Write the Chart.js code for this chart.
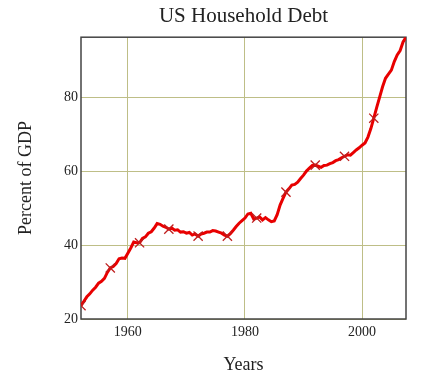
<!DOCTYPE html>
<html>
<head>
<meta charset="utf-8">
<script src="https://cdn.jsdelivr.net/npm/chart.js@4.4.1/dist/chart.umd.min.js"></script>
<style>
  html, body { margin: 0; padding: 0; background: #fff; }
  #wrap { width: 436px; height: 380px; }
</style>
</head>
<body>
<div id="wrap"><canvas id="debtChart" width="436" height="380"></canvas></div>
<script>
// household debt, % of GDP, half-year steps from 1952.0
const startYear = 1952;
const yearStep = 0.5;
const debt = [
  23.6, 24.8, 26.0, 26.8, 27.8, 28.6, 29.7, 30.2, 31.0, 32.6,
  33.8, 34.2, 35.0, 36.3, 36.5, 36.4, 37.8, 39.2, 40.8, 40.6,
  40.6, 41.8, 42.2, 43.2, 43.6, 44.6, 45.8, 45.6, 45.1, 44.8,
  44.3, 44.6, 44.0, 44.1, 43.5, 43.6, 43.2, 43.4, 42.7, 43.0,
  42.4, 43.0, 43.2, 43.5, 43.5, 43.9, 43.8, 43.5, 43.2, 42.7,
  42.4, 43.1, 44.0, 45.0, 45.9, 46.6, 47.3, 48.4, 48.6, 47.0,
  47.3, 47.6, 46.8, 47.4, 46.8, 46.3, 46.5, 48.2, 50.8, 52.6,
  54.3, 55.2, 56.2, 56.4, 57.0, 58.0, 58.9, 60.0, 60.8, 61.5,
  61.6, 61.3, 61.0, 61.5, 61.6, 62.0, 62.3, 62.8, 63.1, 63.6,
  64.0, 64.4, 64.3, 65.0, 65.7, 66.3, 67.0, 67.6, 69.2, 71.5,
  74.3, 77.2, 80.0, 82.8, 85.1, 86.2, 87.3, 89.6, 91.4, 92.6,
  94.9, 96.2
];
const markerYears = [1952, 1957, 1962, 1967, 1972, 1977, 1982, 1987, 1992, 1997, 2002];
const xTicks = [1960, 1980, 2000];
const yTicks = [20, 40, 60, 80];

const points = debt.map((v, i) => ({ x: startYear + i * yearStep, y: v }));

const serif = "'Liberation Serif', 'Times New Roman', serif";
const gridColor = "rgb(190,190,135)";

const frame = {
  id: "frame",
  beforeDatasetsDraw(chart) {
    const a = chart.chartArea;
    const ctx = chart.ctx;
    ctx.save();
    ctx.strokeStyle = "#444";
    ctx.lineWidth = 1.5;
    ctx.strokeRect(a.left, a.top, a.right - a.left, a.bottom - a.top);
    ctx.restore();
  }
};

new Chart(document.getElementById("debtChart"), {
  type: "line",
  data: {
    datasets: [{
      data: points,
      borderColor: "rgb(232,0,0)",
      borderWidth: 3,
      tension: 0,
      pointStyle: "crossRot",
      pointRadius: ctx => markerYears.includes(ctx.raw && ctx.raw.x) ? 6.5 : 0,
      pointHoverRadius: 0,
      pointBorderColor: "rgb(190,30,30)",
      pointBorderWidth: 1.3,
      pointBackgroundColor: "rgb(190,30,30)"
    }]
  },
  plugins: [frame],
  options: {
    responsive: false,
    animation: false,
    layout: { padding: { left: 0, right: 30, top: 0, bottom: 0 } },
    plugins: {
      legend: { display: false },
      tooltip: { enabled: false },
      title: {
        display: true,
        text: "US Household Debt",
        fullSize: false,
        color: "#222",
        font: { family: serif, size: 21, weight: "normal" },
        padding: { top: 4, bottom: 8 }
      }
    },
    scales: {
      x: {
        type: "linear",
        min: 1952,
        max: 2007.5,
        afterBuildTicks: s => { s.ticks = xTicks.map(v => ({ value: v })); },
        afterFit: s => { s.height = 61; },
        grid: { color: gridColor, lineWidth: 1, drawTicks: false },
        border: { display: false },
        ticks: {
          color: "#222",
          padding: 5,
          maxRotation: 0,
          font: { family: serif, size: 14 },
          callback: v => String(v)
        },
        title: {
          display: true,
          text: "Years",
          color: "#222",
          font: { family: serif, size: 18 },
          padding: { top: 0, bottom: 4 }
        }
      },
      y: {
        min: 20,
        max: 96.2,
        afterBuildTicks: s => { s.ticks = yTicks.map(v => ({ value: v })); },
        afterFit: s => { s.width = 81; },
        grid: { color: gridColor, lineWidth: 1, drawTicks: false },
        border: { display: false },
        ticks: {
          color: "#222",
          padding: 3,
          font: { family: serif, size: 14 },
          callback: v => String(v)
        },
        title: {
          display: true,
          text: "Percent of GDP",
          color: "#222",
          font: { family: serif, size: 18 },
          padding: { top: 15, bottom: 0 }
        }
      }
    }
  }
});
</script>
</body>
</html>
